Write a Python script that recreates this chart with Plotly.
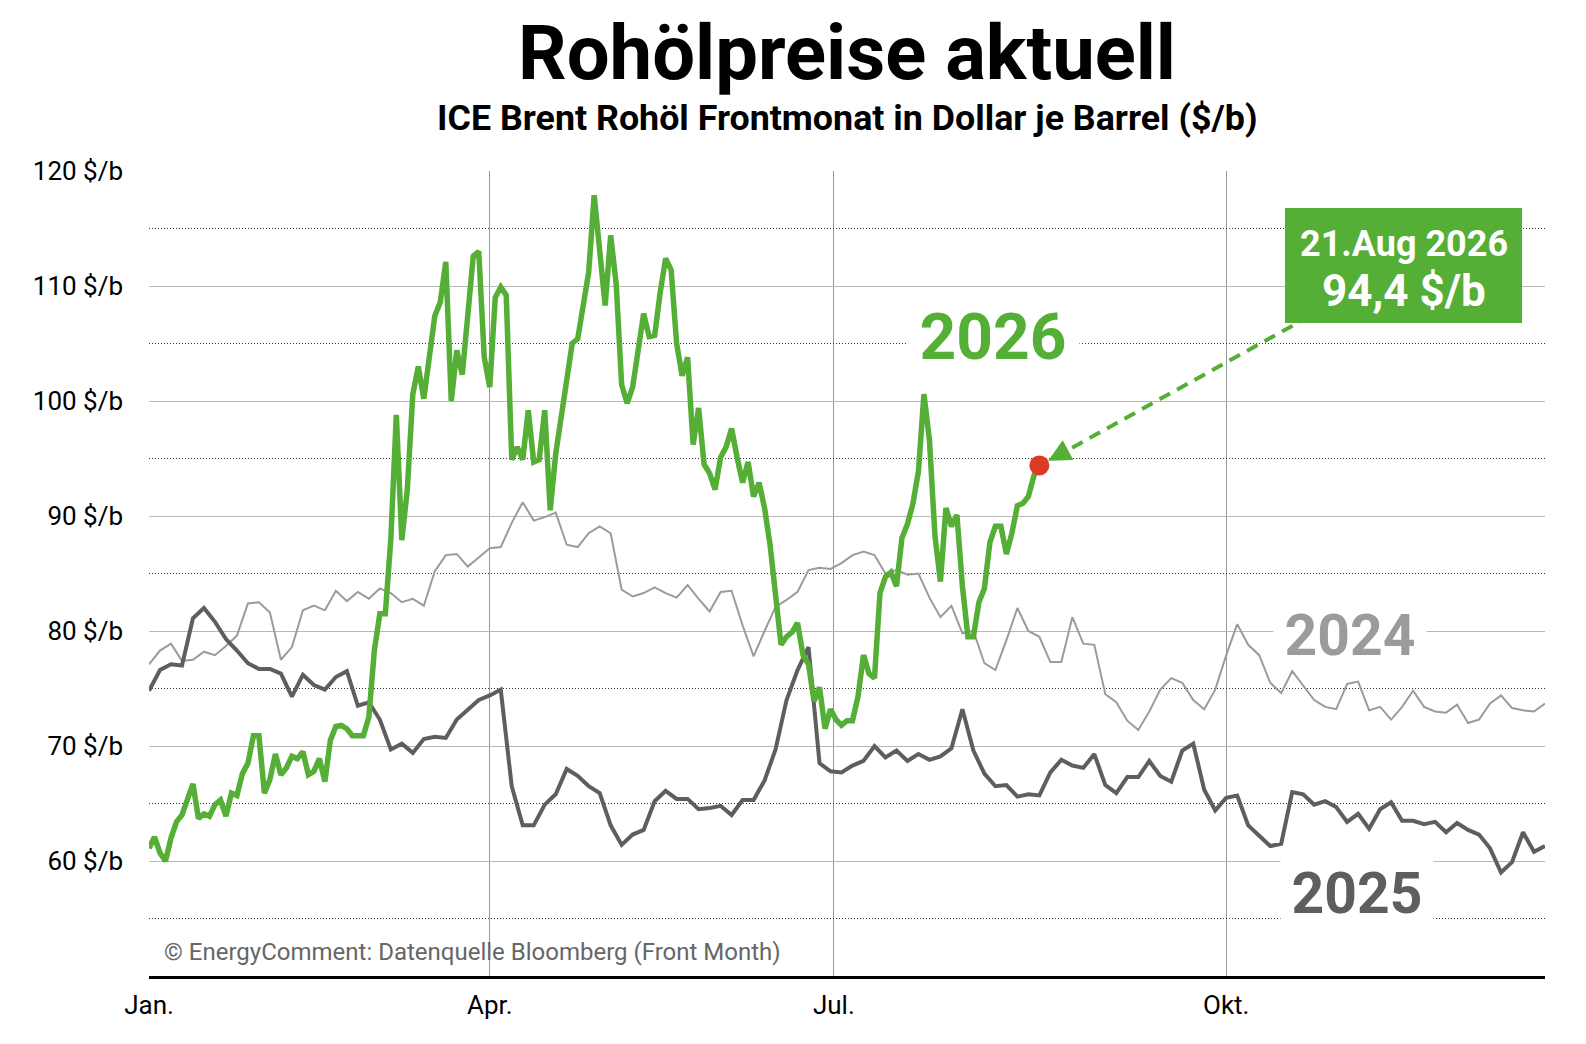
import plotly.graph_objects as go

# ---------------- data ----------------
# x = trading-day index within the year (0 = first trading day of January)
tick_pos = [0, 62, 124.6, 196]
tick_text = ["Jan.", "Apr.", "Jul.", "Okt."]

# 2026 daily values ($/b), up to 21 Aug 2026
brent_2026 = [
    61.1, 62.1, 60.7, 60.0, 62.0, 63.4, 64.0, 65.5, 66.7, 63.7,
    64.1, 63.9, 64.9, 65.3, 63.9, 65.9, 65.7, 67.6, 68.5, 70.9,
    70.9, 65.9, 67.1, 69.3, 67.5, 68.1, 69.1, 68.9, 69.5, 67.5,
    67.8, 68.9, 66.9, 70.5, 71.7, 71.8, 71.5, 70.9, 70.9, 70.9,
    72.5, 78.3, 81.5, 81.5, 88.0, 98.8, 87.9, 92.3, 100.6, 103.0,
    100.2, 103.4, 107.4, 108.6, 112.1, 100.0, 104.4, 102.3, 107.8, 112.6,
    113.0, 103.8, 101.2, 109.0, 109.9, 109.2, 94.9, 96.0, 94.9, 99.2,
    94.7, 94.9, 99.2, 90.5, 95.4, 98.4, 101.8, 105.0, 105.4, 108.2,
    111.2, 117.9, 113.0, 108.3, 114.4, 110.2, 101.4, 99.8, 101.2, 104.2,
    107.6, 105.6, 105.7, 109.4, 112.4, 111.4, 105.0, 102.2, 103.8, 96.2,
    99.4, 94.5, 93.7, 92.3, 95.1, 96.0, 97.6, 95.1, 92.9, 94.7,
    91.7, 92.9, 90.7, 87.5, 83.1, 78.8, 79.5, 79.9, 80.7, 77.9,
    77.1, 73.9, 75.1, 71.5, 73.2, 72.3, 71.8, 72.2, 72.2, 74.3,
    77.9, 76.3, 75.9, 83.3, 84.7, 85.1, 83.9, 88.1, 89.3, 91.1,
    93.9, 100.6, 96.6, 88.3, 84.3, 90.7, 89.1, 90.1, 83.9, 79.5,
    79.5, 82.5, 83.7, 87.7, 89.1, 89.1, 86.7, 88.5, 90.9, 91.1,
    91.7, 93.5, 94.4,
]

# 2025 values, every second trading day
brent_2025 = [
    74.8, 76.6, 77.1, 77.0, 81.1, 82.0, 80.8, 79.3, 78.3, 77.2,
    76.7, 76.7, 76.3, 74.3, 76.2, 75.3, 74.9, 76.0, 76.5, 73.5,
    73.8, 72.3, 69.7, 70.2, 69.4, 70.6, 70.8, 70.7, 72.3, 73.1,
    74.0, 74.4, 74.9, 66.5, 63.1, 63.1, 64.9, 65.8, 68.0, 67.4,
    66.5, 65.9, 63.1, 61.4, 62.3, 62.7, 65.2, 66.1, 65.4, 65.4,
    64.5, 64.6, 64.8, 64.0, 65.3, 65.3, 67.0, 69.7, 74.0, 76.6,
    78.6, 68.5, 67.8, 67.7, 68.3, 68.7, 70.0, 69.0, 69.6, 68.7,
    69.3, 68.8, 69.1, 69.8, 73.2, 69.6, 67.6, 66.5, 66.6, 65.6,
    65.8, 65.7, 67.7, 68.8, 68.3, 68.1, 69.3, 66.6, 65.9, 67.3,
    67.3, 68.7, 67.4, 66.9, 69.6, 70.2, 66.2, 64.4, 65.5, 65.7,
    63.1, 62.2, 61.3, 61.5, 66.0, 65.8, 64.9, 65.2, 64.7, 63.4,
    64.1, 62.8, 64.5, 65.1, 63.5, 63.5, 63.2, 63.4, 62.5, 63.3,
    62.7, 62.3, 61.1, 59.0, 59.9, 62.5, 60.8, 61.3,
]

# 2024 values, every second trading day
brent_2024 = [
    77.1, 78.3, 78.9, 77.4, 77.5, 78.2, 77.9, 78.7, 79.6, 82.4,
    82.5, 81.6, 77.5, 78.6, 81.8, 82.2, 81.8, 83.5, 82.6, 83.4,
    82.8, 83.7, 83.3, 82.5, 82.8, 82.2, 85.2, 86.6, 86.7, 85.6,
    86.4, 87.2, 87.3, 89.4, 91.2, 89.6, 89.9, 90.3, 87.5, 87.3,
    88.5, 89.1, 88.5, 83.6, 83.0, 83.3, 83.8, 83.3, 82.9, 84.0,
    82.8, 81.7, 83.4, 83.5, 80.5, 77.8, 80.0, 82.1, 82.7, 83.4,
    85.3, 85.5, 85.4, 85.9, 86.6, 86.9, 86.6, 85.0, 85.3, 84.9,
    85.0, 82.9, 81.2, 82.2, 79.8, 80.0, 77.2, 76.6, 79.2, 82.0,
    80.0, 79.5, 77.3, 77.3, 81.2, 78.9, 78.8, 74.5, 73.8, 72.2,
    71.4, 73.0, 74.9, 75.9, 75.5, 74.0, 73.2, 74.9, 77.9, 80.6,
    78.8, 77.9, 75.5, 74.6, 76.5, 75.2, 74.0, 73.4, 73.2, 75.4,
    75.6, 73.1, 73.4, 72.3, 73.4, 74.8, 73.4, 73.0, 72.9, 73.6,
    72.0, 72.3, 73.7, 74.4, 73.3, 73.1, 73.0, 73.7,
]

y_ticks = [60, 70, 80, 90, 100, 110, 120]
y_minor = [55, 65, 75, 85, 95, 105, 115]
last_date_label = "21.Aug 2026"

# ---------------- styling ----------------
GREEN = "#55ae35"
DARK = "#5e5e5e"
LIGHT = "#9b9b9b"
RED = "#db3a27"
FONT = "Roboto"

OFF = 8                       # default page body margin
W, H = 1586 - 2 * OFF, 1044 - 2 * OFF
PL, PT, PR, PB = 149, 171, 1545, 976   # plot area in page pixels
ML, MT = PL - OFF, PT - OFF
MR, MB = OFF + W - PR, OFF + H - PB
X_RANGE = [0, 254]
Y_RANGE = [50, 120]
plot_w = PR - PL
plot_h = PB - PT
px_x = plot_w / (X_RANGE[1] - X_RANGE[0])
px_y = plot_h / (Y_RANGE[1] - Y_RANGE[0])


def dx(px):   # page x pixel -> data x
    return X_RANGE[0] + (px - PL) / px_x


def dy(py):   # page y pixel -> data y
    return Y_RANGE[1] - (py - PT) / px_y


x26 = list(range(len(brent_2026)))
x25 = list(range(0, 2 * len(brent_2025), 2))
x24 = list(range(0, 2 * len(brent_2024), 2))

fig = go.Figure()
fig.add_trace(go.Scatter(x=x24, y=brent_2024, mode="lines",
                         line=dict(color=LIGHT, width=2), showlegend=False))
fig.add_trace(go.Scatter(x=x25, y=brent_2025, mode="lines",
                         line=dict(color=DARK, width=4), showlegend=False))
fig.add_trace(go.Scatter(x=x26, y=brent_2026, mode="lines",
                         line=dict(color=GREEN, width=5.5), showlegend=False))

last_x = x26[-1]
last_y = brent_2026[-1]
fig.add_trace(go.Scatter(x=[last_x], y=[last_y], mode="markers",
                         marker=dict(color=RED, size=20), showlegend=False))

# dashed connector from the callout box to the arrow tail
tail_dx, tail_dy = 28, -15
fig.add_shape(type="line", x0=dx(1310), y0=dy(316),
              x1=last_x + tail_dx / px_x, y1=last_y - tail_dy / px_y,
              xref="x", yref="y", line=dict(color=GREEN, width=4, dash="12px,8px"),
              layer="above")
# callout box
fig.add_shape(type="rect", x0=dx(1285), x1=dx(1522), y0=dy(323), y1=dy(208),
              xref="x", yref="y", fillcolor=GREEN, line=dict(width=0), layer="above")

box_cx = dx((1285 + 1522) / 2)
annotations = [
    dict(x=last_x, y=last_y, xref="x", yref="y", text="", showarrow=True,
         ax=tail_dx, ay=tail_dy, arrowhead=2, arrowsize=1.5, arrowwidth=3,
         arrowcolor=GREEN, standoff=10),
    dict(x=box_cx, y=dy(244), xref="x", yref="y", showarrow=False,
         text=f"<b>{last_date_label}</b>",
         font=dict(family=FONT, size=36, color="white"), xanchor="center", yanchor="middle"),
    dict(x=box_cx, y=dy(291), xref="x", yref="y", showarrow=False,
         text=f"<b>{str(last_y).replace('.', ',')} $/b</b>",
         font=dict(family=FONT, size=44, color="white"), xanchor="center", yanchor="middle"),
    dict(x=dx(993), y=dy(337), xref="x", yref="y",
         text="<b>2026</b>", showarrow=False, font=dict(family=FONT, size=64, color=GREEN),
         bgcolor="white", width=170, height=60),
    dict(x=dx(1350), y=dy(635), xref="x", yref="y",
         text="<b>2024</b>", showarrow=False, font=dict(family=FONT, size=57, color=LIGHT),
         bgcolor="white", width=150, height=54),
    dict(x=dx(1357), y=dy(893), xref="x", yref="y",
         text="<b>2025</b>", showarrow=False, font=dict(family=FONT, size=57, color=DARK),
         bgcolor="white", width=150, height=76),
    dict(x=0.5, y=(PB - 118) / plot_h, xref="paper", yref="paper",
         text="<b>ICE Brent Rohöl Frontmonat in Dollar je Barrel ($/b)</b>",
         showarrow=False, font=dict(family=FONT, size=35.8, color="black"),
         xanchor="center", yanchor="middle"),
    dict(x=(162 - PL) / plot_w, y=(PB - 952) / plot_h, xref="paper", yref="paper",
         text="© EnergyComment: Datenquelle Bloomberg (Front Month)",
         showarrow=False, font=dict(family=FONT, size=24, color="#666666"),
         xanchor="left", yanchor="middle"),
]

fig.update_layout(
    width=W, height=H,
    margin=dict(l=ML, r=MR, t=MT, b=MB),
    paper_bgcolor="white", plot_bgcolor="white",
    font=dict(family=FONT, color="black"),
    title=dict(text="<b>Rohölpreise aktuell</b>", x=0.5, xref="paper",
               y=1 - (52 - OFF) / H, yref="container", xanchor="center", yanchor="middle",
               font=dict(family=FONT, size=76, color="black")),
    annotations=annotations,
    xaxis=dict(range=X_RANGE, tickvals=tick_pos, ticktext=tick_text,
               showgrid=False, zeroline=False, showline=True, linecolor="black",
               linewidth=3, ticks="", tickfont=dict(family=FONT, size=26, color="black"),
               ticklabelstandoff=4,
               minor=dict(tickvals=tick_pos[1:], showgrid=True, gridcolor="#9a9a9a",
                          gridwidth=1, ticks="")),
    yaxis=dict(range=Y_RANGE, tickvals=y_ticks, ticktext=[f"{v} $/b" for v in y_ticks],
               showgrid=True, gridcolor="#b8b8b8", gridwidth=1, zeroline=False,
               showline=False, ticks="", tickfont=dict(family=FONT, size=26, color="black"),
               ticklabelstandoff=25,
               minor=dict(tickvals=y_minor, showgrid=True, gridcolor="#333333",
                          gridwidth=1, griddash="1px,2px", ticks="")),
)

fig.write_html("out.html")
